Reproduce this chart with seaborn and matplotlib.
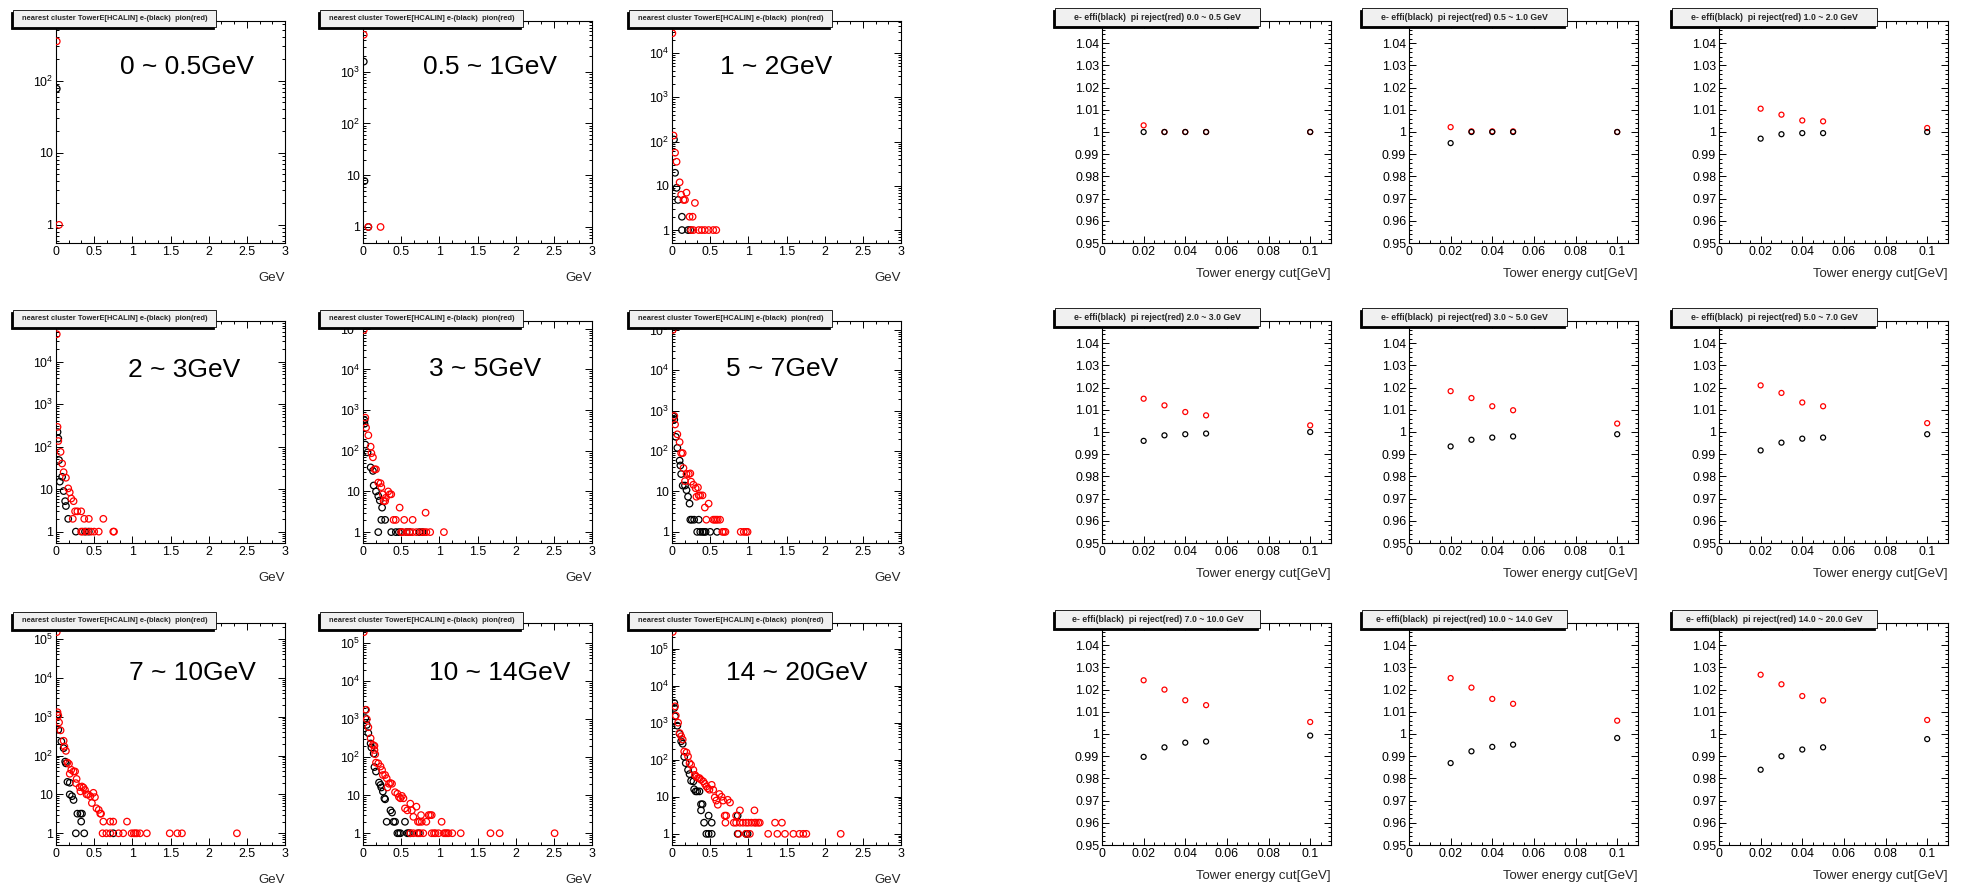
import numpy as np
import matplotlib
matplotlib.use("Agg")
import matplotlib.pyplot as plt
import seaborn as sns
from matplotlib.ticker import MultipleLocator, FuncFormatter, LogLocator, NullFormatter, FixedLocator
from matplotlib.patches import Rectangle

# ---------------- data ----------------
E_BINS = ["0 ~ 0.5GeV", "0.5 ~ 1GeV", "1 ~ 2GeV", "2 ~ 3GeV", "3 ~ 5GeV",
          "5 ~ 7GeV", "7 ~ 10GeV", "10 ~ 14GeV", "14 ~ 20GeV"]
R_BINS = ["0.0 ~ 0.5", "0.5 ~ 1.0", "1.0 ~ 2.0", "2.0 ~ 3.0", "3.0 ~ 5.0",
          "5.0 ~ 7.0", "7.0 ~ 10.0", "10.0 ~ 14.0", "14.0 ~ 20.0"]
LEFT_TITLE = "nearest cluster TowerE[HCALIN] e-(black)  pion(red)"
RIGHT_TITLE = "e- effi(black)  pi reject(red) {} GeV"

# nearest-cluster tower energy distributions (GeV, counts)
ele_x_1 = [0.01]
ele_y_1 = [77]
pion_x_1 = [0.01, 0.04]
pion_y_1 = [350, 1]

ele_x_2 = [0.01, 0.02, 0.07]
ele_y_2 = [1560, 7.7, 1]
pion_x_2 = [0.01, 0.07, 0.23]
pion_y_2 = [5150, 1, 1]

ele_x_3 = [0.026, 0.04, 0.06, 0.08, 0.13, 0.13, 0.21, 0.24]
ele_y_3 = [111, 19.7, 9, 4.8, 2, 1, 1, 1]
pion_x_3 = [0.005, 0.02, 0.04, 0.06, 0.10, 0.12, 0.15, 0.19, 0.17, 0.30, 0.23, 0.27,
            0.25, 0.28, 0.35, 0.39, 0.43, 0.48, 0.54, 0.58]
pion_y_3 = [28000, 137, 56, 35, 12, 6.3, 4.8, 7, 4.8, 4.1, 2, 2,
            1, 1, 1, 1, 1, 1, 1, 1]

ele_x_4 = [0.02, 0.03, 0.04, 0.05, 0.08, 0.10, 0.12, 0.13, 0.16, 0.26, 0.38, 0.43]
ele_y_4 = [220, 155, 48, 15, 19.5, 9, 5.2, 4, 2, 1, 1, 1]
pion_x_4 = [0.01, 0.02, 0.03, 0.06, 0.08, 0.10, 0.13, 0.16, 0.18, 0.20, 0.23, 0.25, 0.28,
            0.33, 0.22, 0.37, 0.43, 0.62, 0.33, 0.35, 0.40, 0.46, 0.50, 0.56, 0.75, 0.76]
pion_y_4 = [44000, 290, 135, 75, 40, 25, 18.5, 10.4, 8.4, 6, 5.2, 3, 3,
            3, 2, 2, 2, 2, 1, 1, 1, 1, 1, 1, 1, 1]

ele_x_5 = [0.02, 0.02, 0.03, 0.06, 0.10, 0.13, 0.14, 0.17, 0.20, 0.22, 0.25, 0.24, 0.29,
           0.20, 0.37, 0.43, 0.47, 0.50, 0.57, 0.61, 0.74, 0.78]
ele_y_5 = [560, 460, 142, 91, 39, 32, 14, 10, 7.7, 6, 4, 2, 2,
           1, 1, 1, 1, 1, 1, 1, 1, 1]
pion_x_5 = [0.01, 0.03, 0.04, 0.07, 0.10, 0.11, 0.13, 0.15, 0.17, 0.20, 0.23, 0.24, 0.26,
            0.30, 0.33, 0.35, 0.37, 0.27, 0.29, 0.48, 0.40, 0.43, 0.54, 0.65, 0.82,
            0.50, 0.52, 0.57, 0.61, 0.65, 0.70, 0.76, 0.80, 0.83, 0.88, 1.06]
pion_y_5 = [93000, 650, 370, 240, 126, 87, 69, 35, 35, 16.5, 15.9, 12.8, 8.5,
            7, 10, 8.5, 8.5, 5.8, 5.8, 4, 2, 2, 2, 2, 3,
            1, 1, 1, 1, 1, 1, 1, 1, 1, 1, 1]

ele_x_6 = [0.02, 0.03, 0.05, 0.07, 0.10, 0.11, 0.12, 0.14, 0.17, 0.19, 0.21, 0.23, 0.24,
           0.26, 0.29, 0.35, 0.33, 0.37, 0.40, 0.42, 0.44, 0.50, 0.59]
ele_y_6 = [710, 600, 225, 120, 58, 44, 27, 14, 14, 10.8, 7.4, 5, 2,
           2, 2, 2, 1, 1, 1, 1, 1, 1, 1]
pion_x_6 = [0.01, 0.03, 0.04, 0.07, 0.10, 0.12, 0.14, 0.15, 0.17, 0.19, 0.22, 0.24, 0.25,
            0.28, 0.31, 0.34, 0.32, 0.35, 0.37, 0.40, 0.43, 0.48, 0.45, 0.54, 0.56, 0.58,
            0.60, 0.63, 0.66, 0.68, 0.70, 0.90, 0.94, 0.97, 0.99]
pion_y_6 = [100000, 740, 455, 260, 167, 89, 89, 38, 18, 27, 27, 28, 17.5,
            14.7, 12, 12.6, 7.4, 8, 8, 8, 4, 5, 2, 2, 2, 2,
            2, 2, 1, 1, 1, 1, 1, 1, 1]

ele_x_7 = [0.02, 0.03, 0.07, 0.10, 0.12, 0.13, 0.15, 0.18, 0.18, 0.21, 0.23, 0.28, 0.32,
           0.34, 0.33, 0.26, 0.37, 0.75]
ele_y_7 = [1130, 460, 230, 155, 70, 63, 21, 20, 10, 9, 7.2, 3.2, 3.2,
           3.2, 2, 1, 1, 1]
pion_x_7 = [0.01, 0.02, 0.03, 0.04, 0.06, 0.10, 0.11, 0.13, 0.15, 0.17, 0.18, 0.20, 0.23,
            0.25, 0.27, 0.26, 0.31, 0.34, 0.32, 0.36, 0.38, 0.40, 0.42, 0.45, 0.47, 0.49,
            0.51, 0.53, 0.56, 0.58, 0.59, 0.62, 0.71, 0.75, 0.93,
            0.61, 0.66, 0.71, 0.82, 0.88, 0.99, 1.02, 1.04, 1.06, 1.10, 1.19, 1.49, 1.59,
            1.65, 2.37]
pion_y_7 = [150000, 1300, 1060, 710, 445, 240, 170, 132, 66, 61, 34, 43, 39,
            39, 25, 19.5, 15.4, 16, 12, 15, 13, 10, 10, 9, 6, 11,
            8.5, 4.4, 4, 3.2, 3.2, 2, 2, 2, 2,
            1, 1, 1, 1, 1, 1, 1, 1, 1, 1, 1, 1, 1,
            1, 1]

ele_x_8 = [0.03, 0.03, 0.05, 0.07, 0.10, 0.11, 0.14, 0.15, 0.17, 0.21, 0.23, 0.24, 0.26,
           0.28, 0.29, 0.36, 0.38, 0.31, 0.40, 0.42, 0.55, 0.45, 0.47, 0.49, 0.58, 0.60,
           0.62, 0.73]
ele_y_8 = [1770, 1070, 710, 430, 230, 180, 125, 55, 42, 21.5, 18.7, 16, 12.5,
           8.3, 7.8, 4, 3.5, 2, 2, 2, 2, 1, 1, 1, 1, 1,
           1, 1]
pion_x_8 = [0.01, 0.04, 0.05, 0.07, 0.10, 0.13, 0.15, 0.15, 0.16, 0.17, 0.20, 0.23, 0.25,
            0.26, 0.29, 0.31, 0.34, 0.36, 0.38, 0.32, 0.42, 0.45, 0.47, 0.49, 0.51, 0.53,
            0.55, 0.58, 0.62, 0.64, 0.66, 0.70, 0.72, 0.74, 0.77, 0.83, 0.76, 0.86, 0.88,
            0.90, 1.03,
            0.62, 0.66, 0.71, 0.75, 0.79, 0.90, 0.93, 0.95, 0.99, 1.06, 1.08, 1.10, 1.12,
            1.17, 1.28, 1.67, 1.79, 2.51]
pion_y_8 = [195000, 1770, 1000, 615, 316, 210, 200, 155, 120, 72, 69, 57, 46,
            34, 34, 28, 20, 21, 20, 16, 12, 11, 9, 8.3, 9.6, 8.3,
            4.5, 4, 6, 4, 2.7, 5, 2, 2, 2, 2, 3, 3, 3,
            3, 2,
            1, 1, 1, 1, 1, 1, 1, 1, 1, 1, 1, 1, 1,
            1, 1, 1, 1, 1]

ele_x_9 = [0.03, 0.03, 0.04, 0.07, 0.10, 0.12, 0.14, 0.16, 0.18, 0.21, 0.23, 0.25, 0.28,
           0.29, 0.31, 0.33, 0.36, 0.38, 0.40, 0.38, 0.42, 0.48, 0.52, 0.45, 0.48, 0.52,
           0.86, 0.86, 0.97, 0.99]
ele_y_9 = [3400, 2500, 1480, 830, 500, 315, 270, 120, 81, 53, 41, 27, 26,
           16, 14, 14, 14, 6.3, 6.3, 4.3, 2, 3.1, 2, 1, 1, 1,
           3.1, 1, 1, 1]
pion_x_9 = [0.01, 0.04, 0.05, 0.08, 0.10, 0.12, 0.14, 0.16, 0.19, 0.21, 0.23, 0.25, 0.28,
            0.30, 0.32, 0.34, 0.36, 0.38, 0.41, 0.43, 0.45, 0.47, 0.49, 0.52, 0.54, 0.56,
            0.58, 0.60, 0.62, 0.65, 0.67, 0.69, 0.71, 0.73, 0.76, 0.84, 0.89, 1.08,
            0.70, 0.81, 0.84, 0.89, 0.93, 0.97, 1.00, 1.04, 1.08, 1.10, 1.13, 1.15, 1.35,
            1.44,
            0.87, 0.97, 1.02, 1.26, 1.38, 1.48, 1.59, 1.67, 1.72, 1.76, 2.21]
pion_y_9 = [282000, 2760, 1550, 1000, 525, 430, 350, 167, 157, 123, 81, 73, 53,
            39, 35, 32, 32, 28.8, 26, 22.4, 19, 17, 15.5, 21, 15.5, 9.6,
            7.9, 6.1, 11.9, 10, 7.9, 3.1, 3.1, 8.3, 7, 3.1, 4.3, 4.3,
            2, 2, 2, 2, 2, 2, 2, 2, 2, 2, 2, 2, 2,
            2,
            1, 1, 1, 1, 1, 1, 1, 1, 1, 1, 1]

# electron efficiency / pion rejection vs tower energy cut
cut_x = [0.02, 0.03, 0.04, 0.05, 0.1]
eff_1 = [1.0, 1.0, 1.0, 1.0, 1.0]
eff_2 = [0.995, 1.0, 1.0, 1.0, 1.0]
eff_3 = [0.997, 0.999, 0.9995, 0.9995, 1.0]
eff_4 = [0.996, 0.9985, 0.999, 0.9993, 1.0]
eff_5 = [0.9935, 0.9965, 0.9975, 0.998, 0.999]
eff_6 = [0.9917, 0.9952, 0.997, 0.9975, 0.999]
eff_7 = [0.9897, 0.994, 0.9961, 0.9966, 0.9993]
eff_8 = [0.9869, 0.9922, 0.9942, 0.9952, 0.9982]
eff_9 = [0.9839, 0.99, 0.993, 0.994, 0.9977]
rej_1 = [1.003, 1.0, 1.0, 1.0, 1.0]
rej_2 = [1.0022, 1.0003, 1.0003, 1.0003, 1.0]
rej_3 = [1.0105, 1.0078, 1.0052, 1.0048, 1.0018]
rej_4 = [1.015, 1.012, 1.009, 1.0075, 1.003]
rej_5 = [1.0184, 1.0153, 1.0116, 1.0098, 1.0038]
rej_6 = [1.021, 1.0176, 1.0133, 1.0116, 1.004]
rej_7 = [1.0242, 1.02, 1.0152, 1.013, 1.0054]
rej_8 = [1.0252, 1.0209, 1.0158, 1.0136, 1.006]
rej_9 = [1.0267, 1.0224, 1.0171, 1.0151, 1.0063]

ELE_X = [ele_x_1, ele_x_2, ele_x_3, ele_x_4, ele_x_5, ele_x_6, ele_x_7, ele_x_8, ele_x_9]
ELE_Y = [ele_y_1, ele_y_2, ele_y_3, ele_y_4, ele_y_5, ele_y_6, ele_y_7, ele_y_8, ele_y_9]
PION_X = [pion_x_1, pion_x_2, pion_x_3, pion_x_4, pion_x_5, pion_x_6, pion_x_7, pion_x_8, pion_x_9]
PION_Y = [pion_y_1, pion_y_2, pion_y_3, pion_y_4, pion_y_5, pion_y_6, pion_y_7, pion_y_8, pion_y_9]
EFF = [eff_1, eff_2, eff_3, eff_4, eff_5, eff_6, eff_7, eff_8, eff_9]
REJ = [rej_1, rej_2, rej_3, rej_4, rej_5, rej_6, rej_7, rej_8, rej_9]

# axis ranges of the distribution panels (log y)
LEFT_YLIM = [(0.56, 670), (0.49, 9500), (0.51, 53000), (0.54, 90000), (0.54, 155000),
             (0.53, 166000), (0.5, 257000), (0.49, 340000), (0.5, 490000)]

# ---------------- layout (pixels) ----------------
W, H = 1963, 885
LEFT_COL_X = [56, 363, 672]
RIGHT_COL_X = [1102, 1409, 1719]
ROW_Y = [21, 321, 623]
AX_W, AX_H = 229, 222
BIG_LABEL_POS = [(187, 67), (490, 67), (776, 67),
                 (184, 370), (485, 369), (782, 369),
                 (192, 673), (500, 673), (797, 673)]

sns.set_theme(style="ticks")
plt.rcParams['font.family'] = ['Liberation Sans', 'DejaVu Sans']
plt.rcParams['mathtext.fontset'] = 'custom'
plt.rcParams['mathtext.rm'] = 'Liberation Sans'
plt.rcParams['mathtext.it'] = 'Liberation Sans:italic'
plt.rcParams['mathtext.bf'] = 'Liberation Sans:bold'

fig = plt.figure(figsize=(W / 100, H / 100), dpi=100)
fig.patch.set_facecolor('white')


def px_axes(x, y, w, h):
    return fig.add_axes([x / W, 1 - (y + h) / H, w / W, h / H])


def title_box(x0, y0, w, h, text, fs):
    fig.patches.append(Rectangle(((x0 - 2) / W, 1 - (y0 + h + 2) / H), w / W, h / H,
                                 transform=fig.transFigure, facecolor='black',
                                 edgecolor='black', lw=0.6, zorder=10))
    fig.patches.append(Rectangle((x0 / W, 1 - (y0 + h) / H), w / W, h / H,
                                 transform=fig.transFigure, facecolor='#f0f0f0',
                                 edgecolor='black', lw=0.6, zorder=11))
    fig.text((x0 + w / 2) / W, 1 - (y0 + h / 2) / H, text, ha='center', va='center',
             fontsize=fs, fontweight='bold', zorder=12)


def open_points(ax, x, y, color, size):
    sns.scatterplot(x=x, y=y, ax=ax, color=color, s=size, marker='o',
                    linewidth=0.9, legend=False, zorder=3)
    coll = ax.collections[-1]
    coll.set_facecolor('none')
    coll.set_edgecolor(color)


def log_label(v, _):
    if v <= 0:
        return ''
    e = int(round(np.log10(v)))
    if e == 0:
        return '1'
    if e == 1:
        return '10'
    return r'$\mathregular{10^{%d}}$' % e


def plain_label(v, _):
    s = '%.3f' % v
    s = s.rstrip('0').rstrip('.')
    return '0' if s in ('-0', '') else s


def style_axes(ax):
    for sp in ax.spines.values():
        sp.set_visible(True)
        sp.set_color('black')
        sp.set_linewidth(0.8)
    ax.set_facecolor('white')
    ax.tick_params(which='both', direction='in', top=True, right=True,
                   width=0.7, colors='black')
    ax.tick_params(which='major', length=5, labelsize=8.9, pad=2)
    ax.tick_params(which='minor', length=2.5)


for i in range(9):
    r, c = divmod(i, 3)
    ax = px_axes(LEFT_COL_X[c], ROW_Y[r], AX_W, AX_H)
    ax.set_yscale('log')
    open_points(ax, ELE_X[i], ELE_Y[i], 'black', 22)
    open_points(ax, PION_X[i], PION_Y[i], 'red', 22)
    ax.set_xlim(0, 3)
    ax.set_ylim(*LEFT_YLIM[i])
    ax.xaxis.set_major_locator(MultipleLocator(0.5))
    ax.xaxis.set_minor_locator(MultipleLocator(0.5 / 3))
    ax.xaxis.set_major_formatter(FuncFormatter(plain_label))
    ax.yaxis.set_major_locator(LogLocator(base=10, numticks=20))
    ax.yaxis.set_minor_locator(LogLocator(base=10, subs=np.arange(2, 10), numticks=100))
    ax.yaxis.set_major_formatter(FuncFormatter(log_label))
    ax.yaxis.set_minor_formatter(NullFormatter())
    style_axes(ax)
    ax.set_ylabel('')
    ax.set_xlabel('GeV', fontsize=9.5, ha='right', va='center')
    ax.xaxis.set_label_coords(1.0, -35 / AX_H)
    title_box(LEFT_COL_X[c] - 43, ROW_Y[r] - 11, 203, 17, LEFT_TITLE, 5.45)
    bx, by = BIG_LABEL_POS[i]
    fig.text(bx / W, 1 - by / H, E_BINS[i], ha='center', va='center', fontsize=19,
             color='black', zorder=12)

for i in range(9):
    r, c = divmod(i, 3)
    ax = px_axes(RIGHT_COL_X[c], ROW_Y[r], AX_W, AX_H)
    open_points(ax, cut_x, REJ[i], 'red', 13)
    open_points(ax, cut_x, EFF[i], 'black', 13)
    ax.set_xlim(0, 0.11)
    ax.set_ylim(0.95, 1.05)
    ax.xaxis.set_major_locator(FixedLocator(np.arange(0, 0.101, 0.02)))
    ax.xaxis.set_minor_locator(MultipleLocator(0.005))
    ax.yaxis.set_major_locator(FixedLocator(np.arange(0.95, 1.0401, 0.01)))
    ax.yaxis.set_minor_locator(MultipleLocator(0.002))
    ax.xaxis.set_major_formatter(FuncFormatter(plain_label))
    ax.yaxis.set_major_formatter(FuncFormatter(plain_label))
    style_axes(ax)
    ax.set_ylabel('')
    ax.set_xlabel('Tower energy cut[GeV]', fontsize=9.5, ha='right', va='center')
    ax.xaxis.set_label_coords(1.0, -31 / AX_H)
    title_box(RIGHT_COL_X[c] - 47, ROW_Y[r] - 13, 205, 18,
              RIGHT_TITLE.format(R_BINS[i]), 6.3)

fig.savefig('out.png', dpi=100, facecolor='white')
